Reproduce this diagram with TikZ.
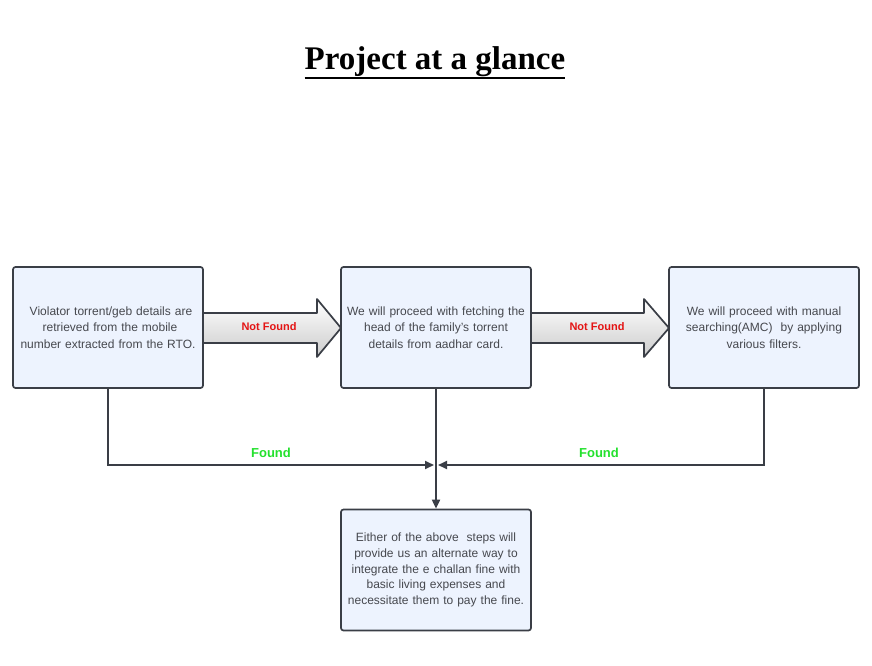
\documentclass[tikz,border=0pt]{standalone}
\usepackage{fontspec}
\setmainfont{Liberation Sans}
\newfontfamily\titlefont{Liberation Serif}
\usetikzlibrary{arrows.meta}
\definecolor{boxfill}{RGB}{237,243,254}
\definecolor{boxline}{RGB}{58,62,70}
\definecolor{txtgray}{RGB}{70,72,78}
\definecolor{nfred}{RGB}{228,20,20}
\definecolor{fgreen}{RGB}{35,225,45}
\tikzset{
  stepbox/.style={draw=boxline, fill=boxfill, line width=1.7pt, rounded corners=2.5pt,
    minimum width=190pt, minimum height=121pt, text width=184pt, align=center,
    inner sep=0pt, text=txtgray, font=\fontsize{12}{16.3}\selectfont},
  blockarrow/.style={draw=boxline, line width=1.7pt, line join=round, top color=white, bottom color=gray!40},
  conn/.style={draw=boxline, line width=1.8pt, -{Triangle[length=9pt,width=8pt]}},
  nflabel/.style={text=nfred, font=\fontsize{11}{13}\selectfont\bfseries},
  flabel/.style={text=fgreen, font=\fontsize{13}{15}\selectfont\bfseries}
}
\begin{document}
\begin{tikzpicture}[x=1pt,y=-1pt]
\useasboundingbox[fill=white] (0,0) rectangle (872,666);
% title
\node[anchor=base, inner sep=0pt, font=\titlefont\fontsize{33}{36}\selectfont\bfseries] (T) at (435,70) {Project at a glance};
\draw[line width=2.8pt] (T.west |- 0,78) -- (T.east |- 0,78);
% boxes
\node[stepbox] (A) at (108,327.5) {\hspace*{6pt}Violator torrent/geb details are\\\hspace*{4pt}retrieved from the mobile\\number extracted from the RTO.};
\node[stepbox] (B) at (436,327.5) {We will proceed with fetching the\\head of the family's torrent\\details from aadhar card.};
\node[stepbox] (C) at (764,327.5) {We will proceed with manual\\searching(AMC)\ \ by applying\\various filters.};
\node[stepbox, font=\fontsize{12}{15.8}\selectfont] (D) at (436,570) {Either of the above\ \ steps will\\provide us an alternate way to\\integrate the e challan fine with\\basic living expenses and\\necessitate them to pay the fine.};
% block arrows
\path[blockarrow] (203,313) -- (317,313) -- (317,299) -- (341,328) -- (317,357) -- (317,343) -- (203,343) -- cycle;
\path[blockarrow] (531,313) -- (644,313) -- (644,299) -- (669,328) -- (644,357) -- (644,343) -- (531,343) -- cycle;
\node[nflabel] (NF1) at (269,327) {Not Found};
\node[nflabel] (NF2) at (597,327) {Not Found};
% connectors
\coordinate (J) at (436,465);
\draw[conn] (A.south) |- ([xshift=-2pt]J);
\draw[conn] (C.south) |- ([xshift=2pt]J);
\draw[conn] (B.south) -- (D.north);
\node[flabel] (F1) at (271,453) {Found};
\node[flabel] (F2) at (599,453) {Found};
\end{tikzpicture}
\end{document}
